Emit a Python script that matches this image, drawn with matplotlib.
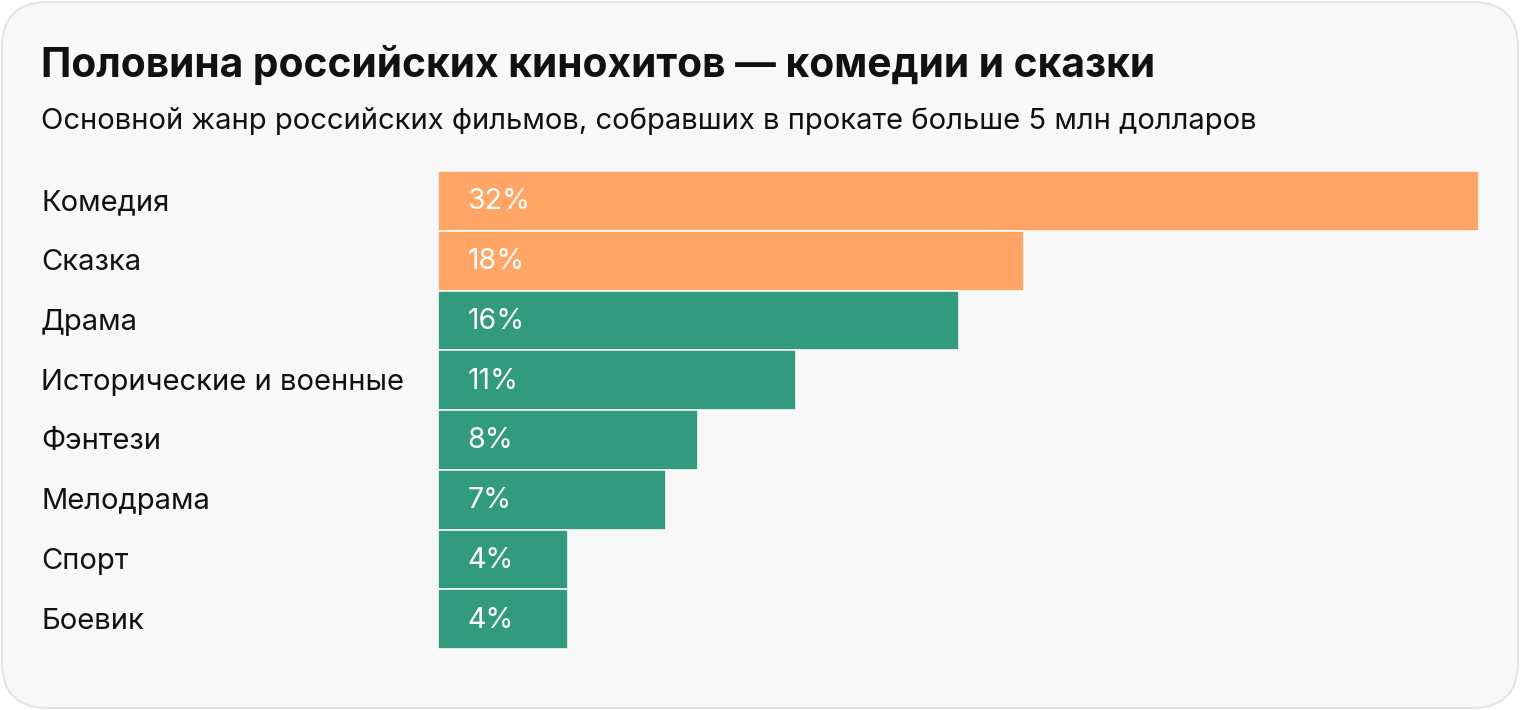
import matplotlib.pyplot as plt
from matplotlib.patches import FancyBboxPatch

genres = ['Комедия', 'Сказка', 'Драма', 'Исторические и военные',
          'Фэнтези', 'Мелодрама', 'Спорт', 'Боевик']
shares = [32, 18, 16, 11, 8, 7, 4, 4]
highlight = [True, True, False, False, False, False, False, False]

orange = '#ffa666'
green = '#339b7d'

plt.rcParams['font.family'] = ['Inter', 'DejaVu Sans']

fig = plt.figure(figsize=(15.2, 7.1), dpi=100)
fig.patch.set_facecolor('white')

# rounded card background
card = FancyBboxPatch((2 / 1520, 2 / 710), 1516 / 1520, 706 / 710,
                      boxstyle='round,pad=0,rounding_size=0.03',
                      transform=fig.transFigure, facecolor='#f8f8f8',
                      edgecolor='#e4e4e4', linewidth=1.5,
                      mutation_aspect=1520 / 710, zorder=-1)
fig.patches.append(card)

fig.text(41 / 1520, 1 - 65 / 710, 'Половина российских кинохитов — комедии и сказки',
         fontsize=29.3, fontweight='bold', color='#111111', va='center', ha='left')
fig.text(41 / 1520, 1 - 121 / 710,
         'Основной жанр российских фильмов, собравших в прокате больше 5 млн долларов',
         fontsize=21, color='#111111', va='center', ha='left')

ax = fig.add_axes([438 / 1520, 61 / 710, 1041 / 1520, 478 / 710])
ax.set_facecolor('none')
y = list(range(len(genres)))
colors = [orange if h else green for h in highlight]
ax.barh(y, shares, height=1.0, color=colors, edgecolor='#f8f8f8', linewidth=1.2)
ax.set_xlim(0, 32)
ax.set_ylim(len(genres) - 0.5, -0.5)
ax.axis('off')

for i, (g, s) in enumerate(zip(genres, shares)):
    ax.annotate(f'{s}%', xy=(0.9, i), xytext=(0, -1), textcoords='offset pixels',
                color='white', fontsize=20.5, va='center', ha='left')
    ax.annotate(g, xy=(0, i), xycoords=('axes fraction', 'data'),
                xytext=(41 - 438, -2), textcoords='offset pixels',
                fontsize=21, color='#111111', va='center', ha='left')

fig.savefig('out.png', dpi=100, facecolor=fig.get_facecolor())
